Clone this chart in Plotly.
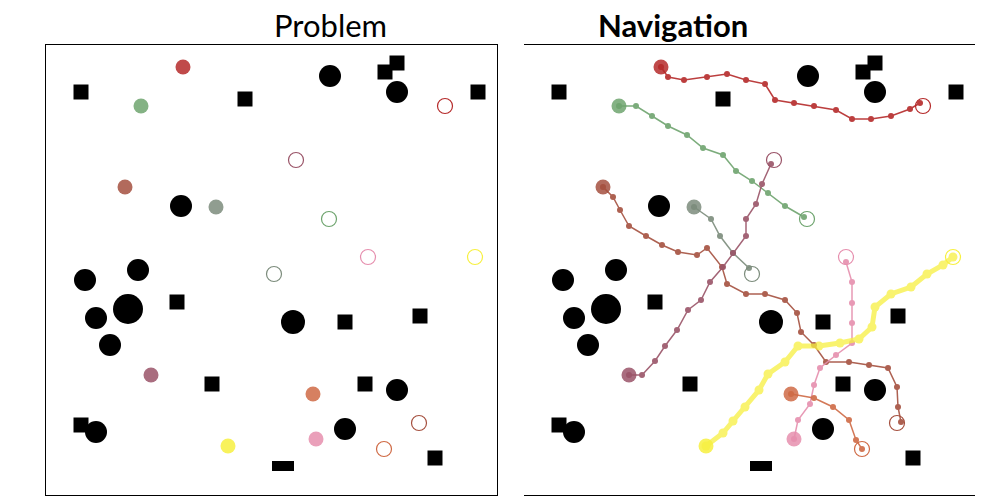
import plotly.graph_objects as go

# obstacles (panel pixel-like coordinates, 451 x 450)
sq_x = [35, 199, 339, 351, 432, 131, 299, 374, 166, 319, 35, 389]
sq_y = [47, 54, 27, 18, 47, 257, 277, 271, 339, 339, 380, 413]
bar_x = [237]
bar_y = [421]
circ_x = [284, 351, 135, 39, 92, 50, 82, 64, 247, 351, 299, 50]
circ_y = [31, 47, 161, 235, 225, 273, 264, 300, 277, 345, 384, 387]
circ_r = [11, 11, 11, 11, 11, 11, 15, 11, 12, 11, 11, 11]

agents = [
    dict(color="#b52a2a", x=[137,144,160,183,203,222,241,251,270,290,312,328,347,367,386,396],
         y=[22,32,35,32,29,35,39,55,58,61,65,74,74,71,64,58], gx=399, gy=61, w=1.5),
    dict(color="#6ea46e", x=[95,112,128,144,163,179,199,212,228,244,261,280],
         y=[61,61,71,81,90,103,110,126,136,148,161,172], gx=283, gy=174, w=1.5),
    dict(color="#a5503f", x=[79,89,96,105,122,138,154,173,183,198,203,222,241,261,273,277,290,302,325,345,364,373,374,377],
         y=[142,152,165,181,191,200,207,210,203,222,239,249,249,255,268,287,300,317,317,320,323,342,362,377], gx=373, gy=378, w=1.5),
    dict(color="#7c8c7c", x=[170,187,196,209,225],
         y=[162,174,191,208,223], gx=228, gy=229, w=1.5),
    dict(color="#9a5468", x=[105,118,131,141,153,164,177,186,199,209,222,222,232,238,247],
         y=[330,330,316,301,285,265,255,237,222,208,191,174,159,139,119], gx=250, gy=115, w=1.5),
    dict(color="#e68fae", x=[270,274,286,290,296,312,328,328,328,328,322],
         y=[394,375,359,340,323,310,298,278,258,237,217], gx=322, gy=212, w=1.5),
    dict(color="#f7f040", x=[182,199,209,221,235,244,261,274,295,316,335,348,351,367,387,403,419,429],
         y=[401,388,376,362,345,329,317,301,301,298,294,282,262,249,242,229,220,212], gx=429, gy=212, w=5),
    dict(color="#cf6a45", x=[267,290,309,325,332,338],
         y=[349,353,362,375,395,404], gx=338, gy=404, w=1.5),
]

fig = go.Figure()
shapes = []
for ax in ["", "2"]:
    for x, y in zip(sq_x, sq_y):
        shapes.append(dict(type="rect", xref="x"+ax, yref="y"+ax, x0=x-7.5, x1=x+7.5, y0=y-7.5, y1=y+7.5,
                           fillcolor="black", line=dict(width=0)))
    for x, y in zip(bar_x, bar_y):
        shapes.append(dict(type="rect", xref="x"+ax, yref="y"+ax, x0=x-11, x1=x+11, y0=y-5, y1=y+5,
                           fillcolor="black", line=dict(width=0)))
    for x, y, r in zip(circ_x, circ_y, circ_r):
        shapes.append(dict(type="circle", xref="x"+ax, yref="y"+ax, x0=x-r, x1=x+r, y0=y-r, y1=y+r,
                           fillcolor="black", line=dict(width=0)))

for a in agents:
    c = a["color"]
    for ax in ["x", "x2"]:
        ya = "y" if ax == "x" else "y2"
        fig.add_trace(go.Scatter(x=[a["gx"]], y=[a["gy"]], xaxis=ax, yaxis=ya, mode="markers",
                                 marker=dict(size=15, color="rgba(0,0,0,0)", line=dict(color=c, width=1.2)),
                                 showlegend=False))
        fig.add_trace(go.Scatter(x=[a["x"][0]], y=[a["y"][0]], xaxis=ax, yaxis=ya, mode="markers",
                                 marker=dict(size=15, color=c, opacity=0.85), showlegend=False))
    fig.add_trace(go.Scatter(x=a["x"], y=a["y"], xaxis="x2", yaxis="y2", mode="lines+markers",
                             line=dict(color=c, width=a["w"]),
                             marker=dict(size=6 if a["w"] < 3 else 9, color=c),
                             opacity=0.9 if a["w"] < 3 else 0.75, showlegend=False))

ax_style = dict(showticklabels=False, ticks="", showgrid=False, zeroline=False,
                showline=True, linecolor="black", linewidth=1, mirror=True)
fig.update_layout(
    width=1000, height=500, margin=dict(l=0, r=0, t=0, b=0),
    plot_bgcolor="white", paper_bgcolor="white", shapes=shapes,
    xaxis=dict(domain=[0.038, 0.489], range=[0, 451], **ax_style),
    yaxis=dict(domain=[0.026, 0.926], range=[450, 0], **ax_style),
    xaxis2=dict(domain=[0.516, 0.967], range=[0, 451], **ax_style),
    yaxis2=dict(domain=[0.026, 0.926], range=[450, 0], **ax_style),
    annotations=[
        dict(text="Problem", x=0.2635, y=0.966, xref="paper", yref="paper", showarrow=False,
             yanchor="middle", font=dict(family="Lato", size=31, color="black")),
        dict(text="<b>Navigation</b>", x=0.7415, y=0.966, xref="paper", yref="paper", showarrow=False,
             yanchor="middle", font=dict(family="Lato", size=31, color="black")),
    ],
)
fig.write_html("out.html")
